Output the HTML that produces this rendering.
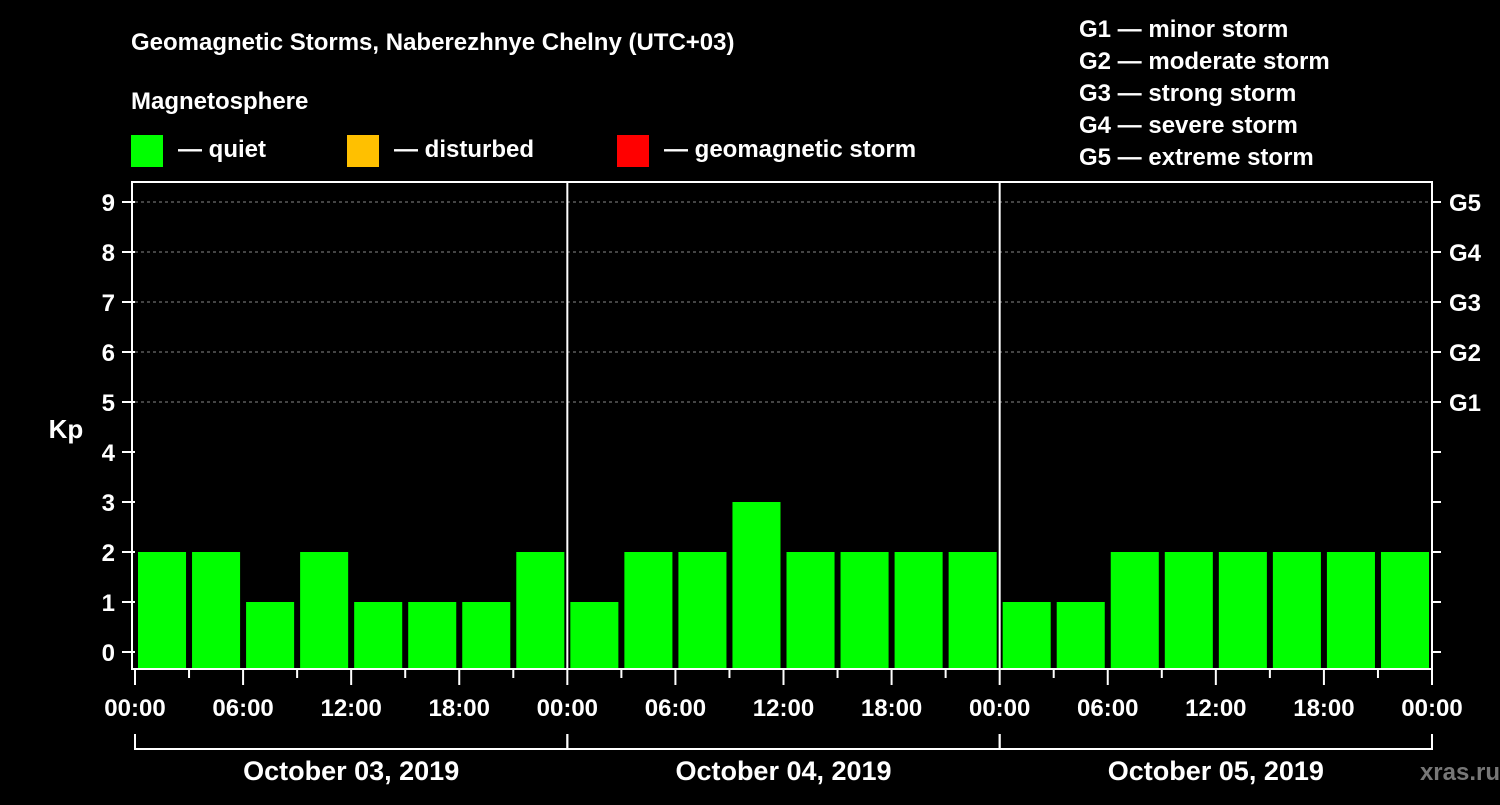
<!DOCTYPE html>
<html><head><meta charset="utf-8"><style>
body{margin:0;background:#000;width:1500px;height:800px;overflow:hidden}
svg text{font-family:"Liberation Sans",Arial,sans-serif;font-weight:bold;fill:#fff}
</style></head><body>
<svg id="c" width="1500" height="800">
<text x="131" y="50" font-size="24">Geomagnetic Storms, Naberezhnye Chelny (UTC+03)</text>
<text x="131" y="109" font-size="24">Magnetosphere</text>
<rect x="131" y="135" width="32" height="32" fill="#00ff00"/>
<text x="178" y="157" font-size="24">— quiet</text>
<rect x="347" y="135" width="32" height="32" fill="#ffc000"/>
<text x="394" y="157" font-size="24">— disturbed</text>
<rect x="617" y="135" width="32" height="32" fill="#ff0000"/>
<text x="664" y="157" font-size="24">— geomagnetic storm</text>
<g font-size="24">
<text x="1079" y="37">G1 — minor storm</text>
<text x="1079" y="69">G2 — moderate storm</text>
<text x="1079" y="101">G3 — strong storm</text>
<text x="1079" y="133">G4 — severe storm</text>
<text x="1079" y="165">G5 — extreme storm</text>
</g>
<text x="66" y="438" font-size="26" text-anchor="middle">Kp</text>
<text x="1500" y="780" font-size="24" text-anchor="end" fill="#777" style="fill:#777">xras.ru</text>
<g id="plot"></g>
</svg>
<script>
const days=["October 03, 2019","October 04, 2019","October 05, 2019"];
const kp=[2,2,1,2,1,1,1,2, 1,2,2,3,2,2,2,2, 1,1,2,2,2,2,2,2];
const yTicks=[0,1,2,3,4,5,6,7,8,9];
const gLabels={5:"G1",6:"G2",7:"G3",8:"G4",9:"G5"};
const hourLabels=["00:00","06:00","12:00","18:00"];
const NS="http://www.w3.org/2000/svg";
const g=document.getElementById('plot');
const L=135,R=1432,T=182,B=668;
const X=h=>L+h*(R-L)/72;
const Y=v=>652-v*50;
function el(t,a,txt){const e=document.createElementNS(NS,t);for(const k in a)e.setAttribute(k,a[k]);if(txt!=null)e.textContent=txt;g.appendChild(e);return e;}
yTicks.forEach(v=>{
 if(v>=5){const l=el('line',{x1:L,x2:R,y1:Y(v),y2:Y(v),stroke:'#888','stroke-dasharray':'3,3','stroke-width':1});
 
 }
 const t=el('line',{x1:122,x2:L,y1:Y(v),y2:Y(v),stroke:'#fff','stroke-width':2});
 
 
 const t2=el('line',{x1:R,x2:1441,y1:Y(v),y2:Y(v),stroke:'#fff','stroke-width':2});
 
 
 const tl=el('text',{x:115,y:Y(v)+9,'font-size':24,'text-anchor':'end'},String(v));
 
 
 if(gLabels[v]){const gl=el('text',{x:1449,y:Y(v)+9,'font-size':24},gLabels[v]);
 
 }
});
kp.forEach((v,i)=>{
 const x0=X(i*3)+3,x1=X(i*3+3)-3;
 const c=v>=5?'#ff0000':(v>=4?'#ffc000':'#00ff00');
 const b=el('rect',{x:x0,y:Y(v),width:x1-x0,height:B-Y(v),fill:c});
 
 
});
for(let d=1;d<days.length;d++){const s=el('line',{x1:X(d*24),x2:X(d*24),y1:T,y2:B,stroke:'#fff','stroke-width':2});
 
 }
const fr=el('rect',{x:132,y:T,width:R-132,height:B-T+1,fill:'none',stroke:'#fff','stroke-width':2});


for(let h=0;h<=72;h+=3){
 const major=h%6===0;
 const t=el('line',{x1:X(h),x2:X(h),y1:B,y2:major?685:678,stroke:'#fff','stroke-width':2});
 
 
 if(major){const lb=el('text',{x:X(h),y:716,'font-size':24,'text-anchor':'middle'},hourLabels[(h/6)%4]);
 
 }
}
days.forEach((d,i)=>{
 const a=X(i*24),b=X(i*24+24);
 const p=el('path',{d:`M${a},734V749H${b}V734`,fill:'none',stroke:'#fff','stroke-width':2});
 
 
 const t=el('text',{x:(a+b)/2,y:780,'font-size':27,'text-anchor':'middle'},d);
 
 
});
</script>
</body></html>
